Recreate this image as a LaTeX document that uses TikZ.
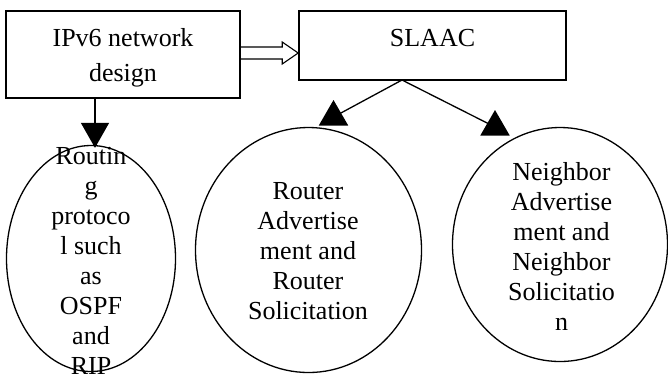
\documentclass[tikz,border=0pt]{standalone}
\usepackage{fontspec}
\setmainfont{Liberation Serif}
\usetikzlibrary{arrows.meta,shapes.geometric,calc}
\begin{document}
\begin{tikzpicture}[x=1pt,y=-1pt,
  box/.style={draw, line width=1.6pt, inner sep=0pt},
  bubble/.style={draw, ellipse, line width=1.3pt, inner sep=0pt},
  txt/.style={align=center, font=\fontsize{26}{30}\selectfont, inner sep=0pt},
  link/.style={line width=1.3pt},
  hollow/.style={line width=1.1pt, line join=miter},
  headtri/.style={regular polygon, regular polygon sides=3, fill=black,
                  inner sep=0pt, minimum size=34pt}]
\useasboundingbox (0,0) rectangle (668,376);

% frames
\node[box, minimum width=234pt, minimum height=87pt] (design) at (123,54.5) {};
\node[box, minimum width=267pt, minimum height=69pt] (slaac) at (432.5,45.5) {};
\node[bubble, minimum width=169pt, minimum height=226pt] (routing) at (91,258.5) {};
\node[bubble, minimum width=226pt, minimum height=245pt] (ra) at (308.5,250) {};
\node[bubble, minimum width=215pt, minimum height=234pt] (na) at (560,244.5) {};

% hollow block arrow from the design box to SLAAC
\coordinate (tail) at (design.east |- 0,53);
\coordinate (tip) at (slaac.west |- 0,53);
\draw[hollow] ($(tail)+(0,-6)$) -- ($(tip)+(-16,-6)$) -- ($(tip)+(-16,-11)$)
  -- (tip) -- ($(tip)+(-16,11)$) -- ($(tip)+(-16,6)$) -- ($(tail)+(0,6)$);

% design -> routing protocols
\coordinate (drop) at (95,99);
\draw[link, -{Triangle[width=28pt,length=25pt]}, shorten >=-3pt]
  (drop) -- (drop |- routing.north);

% SLAAC -> the two message pairs
\coordinate (fork) at (402,80);
\coordinate (raend) at (333.5,117);
\coordinate (naend) at (495,127);
\draw[link] (fork) -- (raend);
\draw[link] (fork) -- (naend);
\node[headtri] (tipra) at (raend) {};
\node[headtri] (tipna) at (naend) {};

% labels
\node[txt, font=\fontsize{26}{35}\selectfont] (designtxt) at (123,57.5) {IPv6 network\\design};
\node[txt] (slaactxt) at (432.5,38) {SLAAC};
\node[txt] (routingtxt) at (91,260.5) {Routin\\g\\protoco\\l such\\as\\OSPF\\and\\RIP};
\node[txt] (ratxt) at (308,251) {Router\\Advertise\\ment and\\Router\\Solicitation};
\node[txt] (natxt) at (561.5,246) {Neighbor\\Advertise\\ment and\\Neighbor\\Solicitatio\\n};
\end{tikzpicture}
\end{document}
